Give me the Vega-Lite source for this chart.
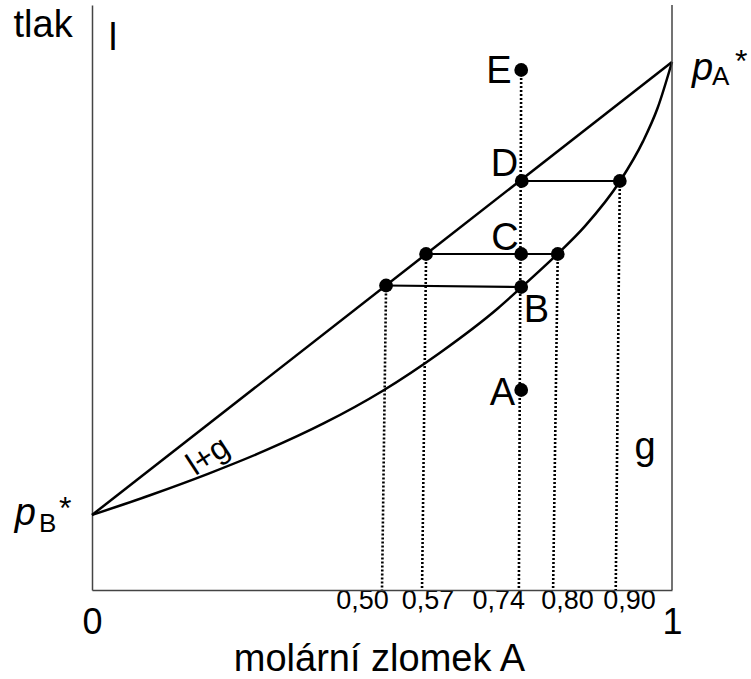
{
  "$schema": "https://vega.github.io/schema/vega-lite/v6.json",
  "width": 580,
  "height": 585,
  "autosize": "none",
  "padding": {"left": 92, "top": 5, "right": 79, "bottom": 89},
  "background": "white",
  "config": {"view": {"stroke": null}, "font": "Liberation Sans"},
  "datasets": {
    "liquid": [{"x": 0, "p": 75}, {"x": 1, "p": 528}],
    "vapor": [
      {"x": 0, "p": 75}, {"x": 0.1, "p": 94.8}, {"x": 0.2, "p": 116.2}, {"x": 0.3, "p": 139.8},
      {"x": 0.4, "p": 166.8}, {"x": 0.5, "p": 198.8}, {"x": 0.6, "p": 237.3}, {"x": 0.7, "p": 281.8},
      {"x": 0.74, "p": 302.5}, {"x": 0.8, "p": 334.6}, {"x": 0.85, "p": 363.9}, {"x": 0.91, "p": 408.5},
      {"x": 0.95, "p": 448.6}, {"x": 0.975, "p": 481.7}, {"x": 1, "p": 528}
    ],
    "ties": [
      {"tie": "B", "x": 0.507, "p": 304.5}, {"tie": "B", "x": 0.74, "p": 303},
      {"tie": "C", "x": 0.576, "p": 336}, {"tie": "C", "x": 0.803, "p": 336},
      {"tie": "D", "x": 0.741, "p": 409}, {"tie": "D", "x": 0.91, "p": 409}
    ],
    "drops": [
      {"x": 0.507, "p": 304.5, "xb": 0.5, "pb": 0},
      {"x": 0.576, "p": 336, "xb": 0.569, "pb": 0},
      {"x": 0.74, "p": 520, "xb": 0.736, "pb": 0},
      {"x": 0.803, "p": 336, "xb": 0.795, "pb": 0},
      {"x": 0.91, "p": 409, "xb": 0.903, "pb": 0}
    ],
    "frame": [{"x": 1, "p0": 0, "p1": 585}],
    "points": [
      {"name": "B_l", "x": 0.507, "p": 304.5}, {"name": "B", "x": 0.74, "p": 303},
      {"name": "C_l", "x": 0.576, "p": 336}, {"name": "C", "x": 0.74, "p": 336},
      {"name": "C_g", "x": 0.803, "p": 336}, {"name": "D", "x": 0.741, "p": 409},
      {"name": "D_g", "x": 0.91, "p": 409}, {"name": "E", "x": 0.74, "p": 520},
      {"name": "A", "x": 0.74, "p": 200}
    ],
    "labels": [
      {"text": "E", "x": 0.7017, "p": 507}, {"text": "D", "x": 0.7112, "p": 414},
      {"text": "C", "x": 0.712, "p": 340}, {"text": "B", "x": 0.7664, "p": 268},
      {"text": "A", "x": 0.7078, "p": 185}, {"text": "l", "x": 0.0362, "p": 540},
      {"text": "g", "x": 0.9534, "p": 131}
    ],
    "region": [{"text": "l+g", "x": 0.2, "p": 134}],
    "pmain": [{"text": "p", "x": 1.0345, "p": 510}, {"text": "p", "x": -0.133, "p": 65}],
    "psub": [{"text": "A", "x": 1.069, "p": 505}, {"text": "B", "x": -0.0914, "p": 58}],
    "pstar": [{"text": "*", "x": 1.1086, "p": 518}, {"text": "*", "x": -0.0569, "p": 71}]
  },
  "layer": [
    {
      "data": {"name": "liquid"},
      "mark": {"type": "line", "color": "black", "strokeWidth": 2.5},
      "encoding": {
        "x": {
          "field": "x", "type": "quantitative",
          "scale": {"domain": [0, 1], "nice": false, "zero": false},
          "axis": {
            "values": [0, 0.5, 0.57, 0.74, 0.8, 0.9, 1],
            "labelExpr": "datum.value == 0 ? '0' : datum.value == 1 ? '1' : replace(format(datum.value, '.2f'), '.', ',')",
            "ticks": false, "tickSize": 0, "grid": false,
            "domainColor": "#444", "domainWidth": 1.5,
            "labelFont": "Liberation Sans", "labelColor": "black",
            "labelBaseline": "alphabetic",
            "labelFontSize": {"condition": {"test": "datum.value == 0 || datum.value == 1", "value": 36}, "value": 27},
            "labelPadding": {"condition": {"test": "datum.value == 0 || datum.value == 1", "value": 43}, "value": 18},
            "labelOffset": {
              "condition": [
                {"test": "abs(datum.value - 0.5) < 0.001", "value": -20},
                {"test": "abs(datum.value - 0.57) < 0.001", "value": 5},
                {"test": "abs(datum.value - 0.74) < 0.001", "value": -23},
                {"test": "abs(datum.value - 0.8) < 0.001", "value": 11},
                {"test": "abs(datum.value - 0.9) < 0.001", "value": 15}
              ],
              "value": 0
            },
            "labelOverlap": false, "labelBound": false, "labelFlush": false,
            "title": "molární zlomek A",
            "titleFont": "Liberation Sans", "titleFontSize": 38, "titleFontWeight": "normal",
            "titleColor": "black", "titleBaseline": "alphabetic", "titleY": 80, "titleX": 287
          }
        },
        "y": {
          "field": "p", "type": "quantitative",
          "scale": {"domain": [0, 585], "nice": false, "zero": false},
          "axis": {
            "ticks": false, "labels": false, "grid": false,
            "domainColor": "#444", "domainWidth": 1.5,
            "title": "tlak", "titleAngle": 0, "titleAlign": "left", "titleBaseline": "alphabetic",
            "titleX": -79, "titleY": 31,
            "titleFont": "Liberation Sans", "titleFontSize": 38, "titleFontWeight": "normal", "titleColor": "black"
          }
        }
      }
    },
    {
      "data": {"name": "vapor"},
      "mark": {"type": "line", "color": "black", "strokeWidth": 2.5, "interpolate": "monotone"},
      "encoding": {
        "x": {"field": "x", "type": "quantitative"},
        "y": {"field": "p", "type": "quantitative"}
      }
    },
    {
      "data": {"name": "ties"},
      "mark": {"type": "line", "color": "black", "strokeWidth": 2.2},
      "encoding": {
        "x": {"field": "x", "type": "quantitative"},
        "y": {"field": "p", "type": "quantitative"},
        "detail": {"field": "tie"}
      }
    },
    {
      "data": {"name": "drops"},
      "mark": {"type": "rule", "color": "black", "strokeWidth": 2.6, "strokeDash": [2, 2]},
      "encoding": {
        "x": {"field": "x", "type": "quantitative"},
        "y": {"field": "p", "type": "quantitative"},
        "x2": {"field": "xb"},
        "y2": {"field": "pb"}
      }
    },
    {
      "data": {"name": "frame"},
      "mark": {"type": "rule", "color": "#444", "strokeWidth": 1.5},
      "encoding": {
        "x": {"field": "x", "type": "quantitative"},
        "y": {"field": "p0", "type": "quantitative"},
        "y2": {"field": "p1"}
      }
    },
    {
      "data": {"name": "points"},
      "mark": {"type": "circle", "color": "black", "opacity": 1, "size": 190},
      "encoding": {
        "x": {"field": "x", "type": "quantitative"},
        "y": {"field": "p", "type": "quantitative"}
      }
    },
    {
      "data": {"name": "labels"},
      "mark": {"type": "text", "color": "black", "font": "Liberation Sans", "fontSize": 38, "align": "center", "baseline": "alphabetic"},
      "encoding": {
        "x": {"field": "x", "type": "quantitative"},
        "y": {"field": "p", "type": "quantitative"},
        "text": {"field": "text"}
      }
    },
    {
      "data": {"name": "region"},
      "mark": {"type": "text", "color": "black", "font": "Liberation Sans", "fontSize": 32, "align": "center", "baseline": "middle", "angle": -33},
      "encoding": {
        "x": {"field": "x", "type": "quantitative"},
        "y": {"field": "p", "type": "quantitative"},
        "text": {"field": "text"}
      }
    },
    {
      "data": {"name": "pmain"},
      "mark": {"type": "text", "color": "black", "font": "Liberation Sans", "fontSize": 38, "fontStyle": "italic", "align": "left", "baseline": "alphabetic"},
      "encoding": {
        "x": {"field": "x", "type": "quantitative"},
        "y": {"field": "p", "type": "quantitative"},
        "text": {"field": "text"}
      }
    },
    {
      "data": {"name": "psub"},
      "mark": {"type": "text", "color": "black", "font": "Liberation Sans", "fontSize": 26, "align": "left", "baseline": "alphabetic"},
      "encoding": {
        "x": {"field": "x", "type": "quantitative"},
        "y": {"field": "p", "type": "quantitative"},
        "text": {"field": "text"}
      }
    },
    {
      "data": {"name": "pstar"},
      "mark": {"type": "text", "color": "black", "font": "Liberation Sans", "fontSize": 32, "align": "left", "baseline": "alphabetic"},
      "encoding": {
        "x": {"field": "x", "type": "quantitative"},
        "y": {"field": "p", "type": "quantitative"},
        "text": {"field": "text"}
      }
    }
  ]
}
